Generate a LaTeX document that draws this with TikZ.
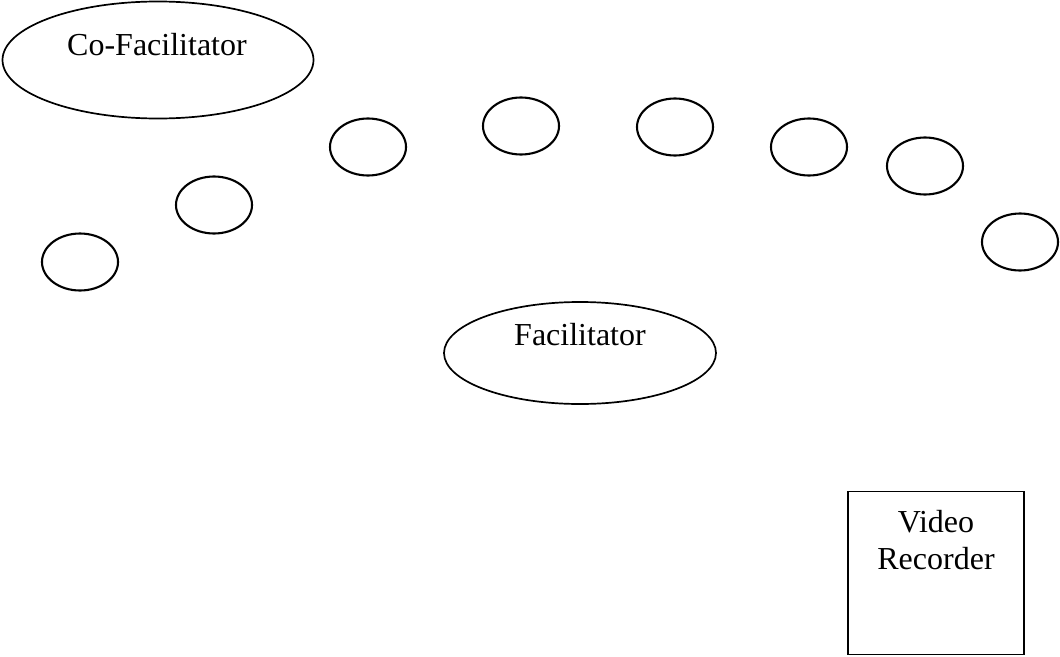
\documentclass[tikz,border=0pt]{standalone}
\usepackage{fontspec}
\setmainfont{Liberation Serif}
\usetikzlibrary{shapes.geometric}
\begin{document}
\begin{tikzpicture}[x=1pt,y=-1pt,
  seat/.style={draw,line width=2.1pt,ellipse,inner sep=0pt,minimum width=76pt,minimum height=57pt},
  bigoval/.style={draw,line width=1.7pt,ellipse,inner sep=0pt},
  lbl/.style={font=\fontsize{32}{37}\selectfont,align=center,inner sep=0pt},
  recbox/.style={draw,line width=1.8pt,inner sep=0pt,minimum width=176pt,minimum height=163pt}]
\useasboundingbox (0,0) rectangle (1060,656);
% participants seated in an arc
\node[seat] (p1) at (80,262) {};
\node[seat] (p2) at (214,205) {};
\node[seat] (p3) at (368,147) {};
\node[seat] (p4) at (521,126) {};
\node[seat] (p5) at (675,127) {};
\node[seat] (p6) at (809,147) {};
\node[seat] (p7) at (925,166) {};
\node[seat] (p8) at (1020,242) {};
% co-facilitator
\node[bigoval,minimum width=311pt,minimum height=117pt] (cof) at (158,60) {};
\node[lbl] (coft) at (157,45) {Co-Facilitator};
% facilitator
\node[bigoval,minimum width=272pt,minimum height=102pt] (fac) at (580,353) {};
\node[lbl] (fact) at (580,335) {Facilitator};
% video recorder
\node[recbox] (rec) at (936,573) {};
\node[lbl] (rect) at (936,540) {Video\\Recorder};
\end{tikzpicture}
\end{document}
